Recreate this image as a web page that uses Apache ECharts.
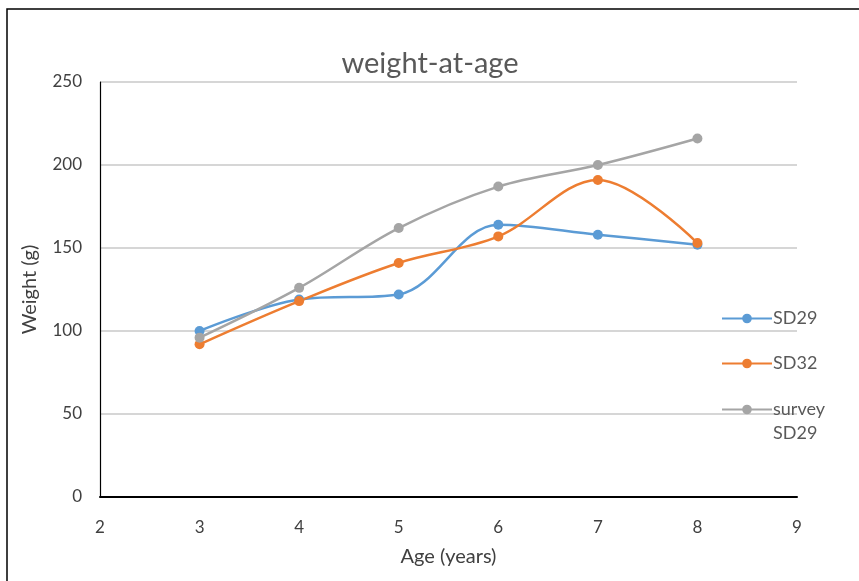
<!DOCTYPE html>
<html><head><meta charset="utf-8">
<script src="https://cdn.jsdelivr.net/npm/echarts@6/dist/echarts.min.js"></script>
<style>html,body{margin:0;padding:0;background:#fff}#c{width:859px;height:581px}</style>
</head><body><div id="c"></div>
<script>
const ages = [3, 4, 5, 6, 7, 8];
const sd29 = [100, 119, 122, 164, 158, 152];
const sd32 = [92, 118, 141, 157, 191, 153];
const survey = [96, 126, 162, 187, 200, 216];
const seriesNames = ['SD29', 'SD32', 'survey SD29'];
const colors = ['#5B9BD5', '#ED7D31', '#A5A5A5'];
const FONT = 'Lato, "Open Sans", sans-serif';

const chart = echarts.init(document.getElementById('c'));
const mk = (name, vals, color) => ({
  name, type: 'line', smooth: 0.35,
  data: ages.map((a, i) => [a, vals[i]]),
  symbol: 'circle', symbolSize: 10,
  lineStyle: { color, width: 2.5 },
  itemStyle: { color },
  z: 3
});
const legendText = { fontFamily: FONT, fontSize: 18, color: '#595959', lineHeight: 25, padding: [0,0,0,-4] };
chart.setOption({
  animation: false,
  backgroundColor: '#fff',
  graphic: [
    { type: 'rect', shape: { x: 7, y: 9, width: 900, height: 600 }, style: { fill: 'none', stroke: '#000', lineWidth: 1.5 }, silent: true },
    { type: 'text', left: 773, top: 424, style: { text: 'SD29', fontFamily: FONT, fontSize: 18, fill: '#595959' }, silent: true }
  ],
  title: { text: 'weight-at-age', left: 425, top: 44, textAlign: 'center',
    textStyle: { fontFamily: FONT, fontSize: 29, fontWeight: 'normal', color: '#595959' } },
  grid: { left: 100, right: 62, top: 82, bottom: 84, containLabel: false },
  legend: [{
    orient: 'vertical', left: 716, top: 301, itemGap: 20,
    itemWidth: 50, itemHeight: 12,
    data: seriesNames.slice(0, 2),
    textStyle: legendText
  }, {
    orient: 'vertical', left: 716, top: 392,
    itemWidth: 50, itemHeight: 12,
    data: [seriesNames[2]],
    formatter: n => 'survey',
    textStyle: legendText
  }],
  xAxis: { type: 'value', min: 2, max: 9, interval: 1,
    name: 'Age (years)', nameLocation: 'middle', nameGap: 50,
    nameTextStyle: { fontFamily: FONT, fontSize: 20, color: '#404040' },
    axisLine: { show: true, lineStyle: { color: '#000', width: 2 } },
    axisTick: { show: false }, splitLine: { show: false },
    axisLabel: { fontFamily: FONT, fontSize: 17, color: '#404040', margin: 22 } },
  yAxis: { type: 'value', min: 0, max: 250, interval: 50,
    name: 'Weight (g)', nameLocation: 'middle', nameGap: 60,
    nameTextStyle: { fontFamily: FONT, fontSize: 20, color: '#404040' },
    axisLine: { show: true, lineStyle: { color: '#000', width: 1.2 } },
    axisTick: { show: false },
    splitLine: { lineStyle: { color: '#C8C8C8', width: 1.5 } },
    axisLabel: { fontFamily: FONT, fontSize: 17, color: '#404040', margin: 18 } },
  series: [mk(seriesNames[0], sd29, colors[0]), mk(seriesNames[1], sd32, colors[1]), mk(seriesNames[2], survey, colors[2])]
});
</script></body></html>
